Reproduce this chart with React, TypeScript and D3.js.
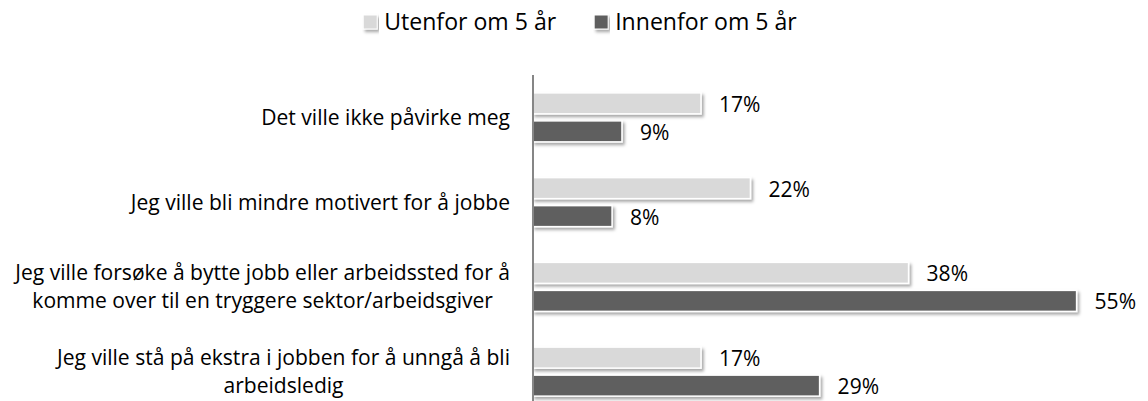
import { useEffect, useRef } from 'react'
import * as d3 from 'd3'

const W = 1148
const H = 401

// categories, wrapped as in the source chart
const categories: string[][] = [
  ['Det ville ikke påvirke meg'],
  ['Jeg ville bli mindre motivert for å jobbe'],
  ['Jeg ville forsøke å bytte jobb eller arbeidssted for å', 'komme over til en tryggere sektor/arbeidsgiver'],
  ['Jeg ville stå på ekstra i jobben for å unngå å bli', 'arbeidsledig'],
]
const seriesNames = ['Utenfor om 5 år', 'Innenfor om 5 år']
const utenfor = [0.17, 0.22, 0.38, 0.17]
const innenfor = [0.09, 0.08, 0.55, 0.29]
const colors = ['#d9d9d9', '#5f5f5f']

const FONT = '"Open Sans", sans-serif'
const X0 = 533
const LABEL_RIGHT = 510
const LINE_H = 28
// target text widths (Calibri there), used to size the substitute font
const CAT_W = 495
const LEG_W = 172

function fitSize(svg: d3.Selection<SVGSVGElement, unknown, null, undefined>, s: string, target: number) {
  const t = svg.append('text').attr('font-family', FONT).attr('font-size', 20).text(s)
  const w = (t.node() as SVGTextElement).getComputedTextLength()
  t.remove()
  return (20 * target) / w
}

export default function App() {
  const ref = useRef<SVGSVGElement>(null)

  useEffect(() => {
    document.body.style.margin = '0'
    const svg = d3.select(ref.current as SVGSVGElement)
    svg.selectAll('*').remove()

    const FS = fitSize(svg, categories[2][0], CAT_W)
    const LFS = fitSize(svg, seriesNames[0], LEG_W)

    const defs = svg.append('defs')
    const f = defs.append('filter').attr('id', 'shadow').attr('x', '-5%').attr('y', '-30%').attr('width', '115%').attr('height', '180%')
    f.append('feDropShadow').attr('dx', 2).attr('dy', 2.5).attr('stdDeviation', 1.4).attr('flood-color', '#000').attr('flood-opacity', 0.35)

    const x = d3.scaleLinear().domain([0, 0.6]).range([X0, X0 + 593])
    const y = d3.scaleBand<number>().domain(categories.map((_, i) => i)).range([75, 414]).padding(0)
    const step = y.bandwidth()
    const inner = d3.scaleBand<number>().domain([0, 1]).range([step / 2 - 24.5, step / 2 + 24.5]).paddingInner(0.25)
    const series = [utenfor, innenfor]

    // bars
    series.forEach((vals, s) => {
      const g = svg.append('g')
      g.selectAll('rect')
        .data(vals)
        .join('rect')
        .attr('x', x(0))
        .attr('y', (_, i) => (y(i) ?? 0) + (inner(s) ?? 0))
        .attr('width', (d) => x(d) - x(0))
        .attr('height', inner.bandwidth())
        .attr('fill', colors[s])
        .attr('stroke', '#fff')
        .attr('stroke-width', 1.5)
        .attr('filter', 'url(#shadow)')

      g.selectAll('text')
        .data(vals)
        .join('text')
        .attr('x', (d) => x(d) + 18)
        .attr('y', (_, i) => (y(i) ?? 0) + (inner(s) ?? 0) + inner.bandwidth() / 2 + 1)
        .attr('dy', '0.35em')
        .attr('font-family', FONT)
        .attr('font-size', FS)
        .attr('fill', '#000')
        .text((d) => `${Math.round(d * 100)}%`)
    })

    // axis line
    svg.append('line')
      .attr('x1', x(0)).attr('x2', x(0))
      .attr('y1', 75).attr('y2', H)
      .attr('stroke', '#868686').attr('stroke-width', 2)

    // category labels: block right-aligned, lines centered within block
    categories.forEach((lines, i) => {
      const cy = (y(i) ?? 0) + step / 2
      const g = svg.append('g')
      const texts = g.selectAll('text')
        .data(lines)
        .join('text')
        .attr('y', (_, k) => cy + (k - (lines.length - 1) / 2) * LINE_H)
        .attr('dy', '0.35em')
        .attr('text-anchor', 'middle')
        .attr('font-family', FONT)
        .attr('font-size', FS)
        .attr('fill', '#000')
        .text((d) => d)
      let maxW = 0
      texts.each(function () {
        maxW = Math.max(maxW, (this as SVGTextElement).getComputedTextLength())
      })
      texts.attr('x', LABEL_RIGHT - maxW / 2)
    })

    // legend, centered above the plot
    const lg = svg.append('g')
    const items = seriesNames.map((name, s) => {
      const item = lg.append('g')
      item.append('rect').attr('width', 14).attr('height', 14).attr('y', -7).attr('fill', colors[s])
        .attr('stroke', '#fff').attr('stroke-width', 1).attr('filter', 'url(#shadow)')
      const t = item.append('text').attr('x', 21).attr('dy', '0.35em')
        .attr('font-family', FONT).attr('font-size', LFS).attr('fill', '#000').text(name)
      return { item, w: 21 + (t.node() as SVGTextElement).getComputedTextLength() }
    })
    const gap = 38
    const total = d3.sum(items, (d) => d.w) + gap * (items.length - 1)
    let cx = 580 - total / 2
    items.forEach((d) => {
      d.item.attr('transform', `translate(${cx},22)`)
      cx += d.w + gap
    })
  }, [])

  return <svg ref={ref} width={W} height={H} style={{ display: 'block', background: '#fff' }} />
}
